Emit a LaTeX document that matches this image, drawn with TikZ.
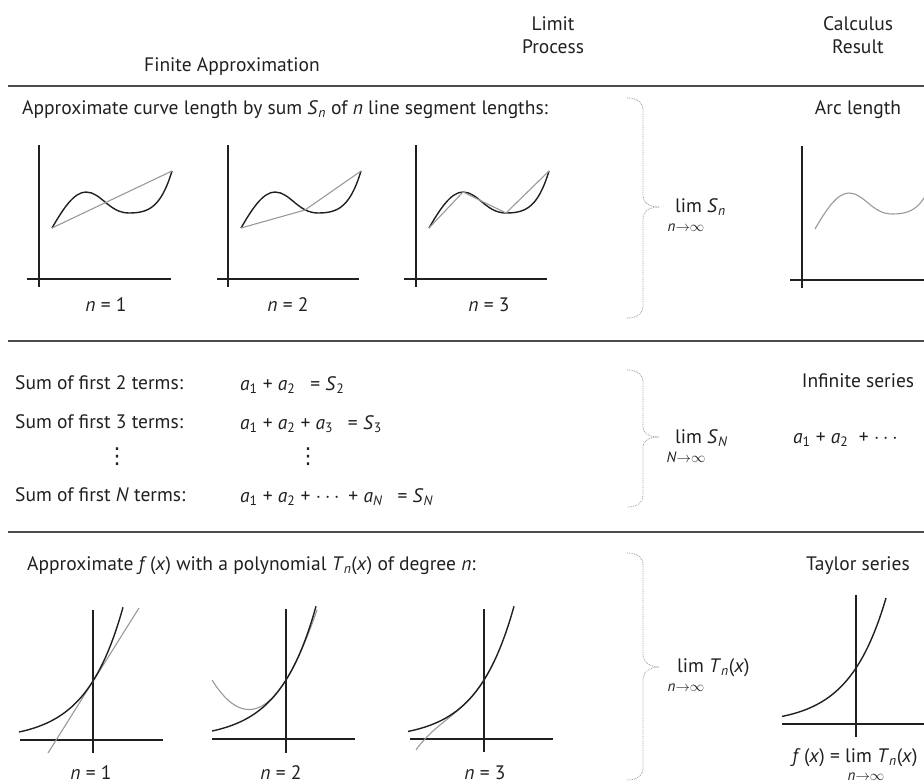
\documentclass[tikz,border=0pt]{standalone}
\usepackage{amsmath}
\usepackage{fontspec}
\setmainfont{PT Sans}
\newfontfamily\symfont{DejaVu Sans}
\newcommand{\iv}[1]{\textit{#1}}
\newcommand{\sbi}[1]{\textsubscript{\textit{#1}}}
\newcommand{\sbu}[1]{\textsubscript{#1}}
\newcommand{\toinf}{${\to}{\infty}$}
\definecolor{ink}{HTML}{231F20}
\tikzset{
  every node/.style={inner sep=0pt, text=ink},
  lbl/.style={font=\fontsize{19.5}{23}\selectfont},
  smalllbl/.style={font=\fontsize{15}{17}\selectfont},
  dotslbl/.style={font=\fontsize{22}{24}\symfont},
  ax/.style={line width=1.5pt, draw=ink},
  crv/.style={line width=1.4pt, draw=ink},
  apx/.style={line width=1.1pt, draw=black!40},
  rulebar/.style={line width=2pt, draw=black!70},
  bracepath/.style={densely dotted, draw=black!40, line width=0.8pt},
}
\begin{document}
\begin{tikzpicture}[x=1pt,y=-1pt]
\useasboundingbox (0,0) rectangle (924,784);
\clip (0,0) rectangle (924,784);

% ---------- header ----------
\node[lbl, anchor=base] (hfin) at (232,72) {Finite Approximation};
\node[lbl, anchor=base] (hlimA) at (553,31) {Limit};
\node[lbl, anchor=base] (hlimB) at (553,54) {Process};
\node[lbl, anchor=base] (hcalA) at (858,31) {Calculus};
\node[lbl, anchor=base] (hcalB) at (858,54) {Result};

% ---------- rules ----------
\coordinate (r1a) at (8,86);  \coordinate (r1b) at (924,86);
\coordinate (r2a) at (8,341); \coordinate (r2b) at (924,341);
\coordinate (r3a) at (8,532); \coordinate (r3b) at (924,532);
\draw[rulebar] (r1a) -- (r1b);
\draw[rulebar] (r2a) -- (r2b);
\draw[rulebar] (r3a) -- (r3b);

% ---------- row 1 ----------
\node[lbl, anchor=base west] (t1) at (22,114) {Approximate curve length by sum \iv{S}\sbi{n} of \iv{n} line segment lengths:};
\node[lbl, anchor=base] (arc) at (858,114) {Arc length};

% plot n=1
\begin{scope}[shift={(39,279)}]
  \draw[ax] (0,-134) -- (0,8);
  \draw[ax] (-12,0) -- (132,0);
  \draw[crv] (13,-51) .. controls (24,-70) and (35,-87) .. (47,-87) .. controls (62,-87) and (70,-66) .. (90,-66) .. controls (110,-66) and (122,-72) .. (133,-108);
  \draw[apx] (13,-51) -- (133,-108);
\end{scope}
% plot n=2
\begin{scope}[shift={(228,279)}]
  \draw[ax] (0,-134) -- (0,8);
  \draw[ax] (-11,0) -- (131,0);
  \draw[crv] (13,-51) .. controls (24,-70) and (35,-87) .. (47,-87) .. controls (62,-87) and (70,-66) .. (90,-66) .. controls (110,-66) and (122,-72) .. (133,-108);
  \draw[apx] (13,-51) -- (77,-69) -- (133,-108);
\end{scope}
% plot n=3
\begin{scope}[shift={(416,279)}]
  \draw[ax] (0,-134) -- (0,8);
  \draw[ax] (-12,0) -- (131,0);
  \draw[crv] (13,-51) .. controls (24,-70) and (35,-87) .. (47,-87) .. controls (62,-87) and (70,-66) .. (90,-66) .. controls (110,-66) and (122,-72) .. (133,-108);
  \draw[apx] (13,-51) -- (47,-87) -- (90,-66) -- (133,-108);
\end{scope}
% arc length
\begin{scope}[shift={(802,280)}]
  \draw[ax] (0,-134) -- (0,8);
  \draw[ax] (-12,0) -- (140,0);
  \draw[apx] (13,-51) .. controls (24,-70) and (35,-87) .. (47,-87) .. controls (62,-87) and (70,-66) .. (90,-66) .. controls (110,-66) and (122,-72) .. (133,-108);
\end{scope}

\node[lbl, anchor=base] (n1a) at (106,311) {\iv{n} = 1};
\node[lbl, anchor=base] (n2a) at (288,311) {\iv{n} = 2};
\node[lbl, anchor=base] (n3a) at (489,311) {\iv{n} = 3};

% brace 1
\draw[bracepath] (627,98) .. controls (637,98) and (643,102) .. (643,110) -- (643,196) .. controls (643,203) and (650,207) .. (659,207);
\draw[bracepath] (659,207) .. controls (650,207) and (643,211) .. (643,218) -- (643,306) .. controls (643,314) and (637,318) .. (627,318);
\node[lbl, anchor=base west] (lim1) at (675,212) {lim \iv{S}\sbi{n}};
\node[smalllbl, anchor=base] (lim1s) at (686,231) {\iv{n}\toinf};

% ---------- row 2 ----------
\node[lbl, anchor=base west] (s2) at (15,389) {Sum of first 2 terms:};
\node[lbl, anchor=base west] (s3) at (15,428) {Sum of first 3 terms:};
\node[dotslbl] (sdots) at (117,457) {⋮};
\node[lbl, anchor=base west] (sN) at (15,501) {Sum of first \iv{N} terms:};

\node[lbl, anchor=base west] (e2) at (240,390) {\iv{a}\sbu{1} + \iv{a}\sbu{2} \enspace= \iv{S}\sbu{2}};
\node[lbl, anchor=base west] (e3) at (240,429) {\iv{a}\sbu{1} + \iv{a}\sbu{2} + \iv{a}\sbu{3} \enspace= \iv{S}\sbu{3}};
\node[dotslbl] (edots) at (308,457) {⋮};
\node[lbl, anchor=base west] (eN) at (240,502) {\iv{a}\sbu{1} + \iv{a}\sbu{2} + $\cdots$ + \iv{a}\sbi{N} \enspace= \iv{S}\sbi{N}};

\draw[bracepath] (627,370) .. controls (637,370) and (643,374) .. (643,382) -- (643,427) .. controls (643,434) and (650,437) .. (659,437);
\draw[bracepath] (659,437) .. controls (650,437) and (643,440) .. (643,447) -- (643,495) .. controls (643,503) and (637,507) .. (627,507);
\node[lbl, anchor=base west] (lim2) at (675,443) {lim \iv{S}\sbi{N}};
\node[smalllbl, anchor=base] (lim2s) at (686,462) {\iv{N}\toinf};

\node[lbl, anchor=base] (inf) at (858,387) {Infinite series};
\node[lbl, anchor=base west] (ser) at (793,443) {\iv{a}\sbu{1} + \iv{a}\sbu{2} \ + $\cdots$};

% ---------- row 3 ----------
\node[lbl, anchor=base west] (t3) at (27,570) {Approximate \iv{f}\,(\iv{x}) with a polynomial \iv{T}\sbi{n}(\iv{x}) of degree \iv{n}:};
\node[lbl, anchor=base] (tay) at (858,570) {Taylor series};

% plot n=1
\begin{scope}[shift={(93,740)}]
  \draw[ax] (0,-130) -- (0,13);
  \draw[ax] (-73,0) -- (70,0);
  \draw[apx] (-45,13) -- (46,-132);
  \draw[crv] plot[domain=-74:30, samples=60, smooth] (\x, {-59*exp(\x/37)});
\end{scope}
% plot n=2
\begin{scope}[shift={(286,739)}]
  \draw[ax] (0,-130) -- (0,14);
  \draw[ax] (-74,0) -- (69,0);
  \draw[apx] plot[domain=-74:31, samples=60, smooth] (\x, {-59*(1+\x/37+(\x/37)*(\x/37)/2)});
  \draw[crv] plot[domain=-74:30, samples=60, smooth] (\x, {-59*exp(\x/37)});
\end{scope}
% plot n=3
\begin{scope}[shift={(484,739)}]
  \draw[ax] (0,-130) -- (0,13);
  \draw[ax] (-74,0) -- (69,0);
  \draw[apx] plot[domain=-68:5, samples=50, smooth] (\x, {-59*(1+\x/37+(\x/37)*(\x/37)/2+(\x/37)*(\x/37)*(\x/37)/6)});
  \draw[crv] plot[domain=-76:30, samples=60, smooth] (\x, {-59*exp(\x/37)});
\end{scope}
% Taylor
\begin{scope}[shift={(856,724)}]
  \draw[ax] (0,-129) -- (0,13);
  \draw[ax] (-74,0) -- (80,0);
  \draw[crv] plot[domain=-74:30, samples=60, smooth] (\x, {-56*exp(\x/37)});
\end{scope}

\node[lbl, anchor=base] (n1b) at (91,779) {\iv{n} = 1};
\node[lbl, anchor=base] (n2b) at (281,779) {\iv{n} = 2};
\node[lbl, anchor=base] (n3b) at (485,779) {\iv{n} = 3};

\draw[bracepath] (627,553) .. controls (637,553) and (643,557) .. (643,565) -- (643,655) .. controls (643,662) and (650,667) .. (659,667);
\draw[bracepath] (659,667) .. controls (650,667) and (643,672) .. (643,679) -- (643,768) .. controls (643,776) and (637,780) .. (627,780);
\node[lbl, anchor=base west] (lim3) at (677,672) {lim \iv{T}\sbi{n}(\iv{x})};
\node[smalllbl, anchor=base] (lim3s) at (686,691) {\iv{n}\toinf};

\node[lbl, anchor=base] (fx) at (855,762) {\iv{f}\,(\iv{x}) = lim \iv{T}\sbi{n}(\iv{x})};
\node[smalllbl, anchor=base] (fxs) at (866,780) {\iv{n}\toinf};
\end{tikzpicture}
\end{document}
